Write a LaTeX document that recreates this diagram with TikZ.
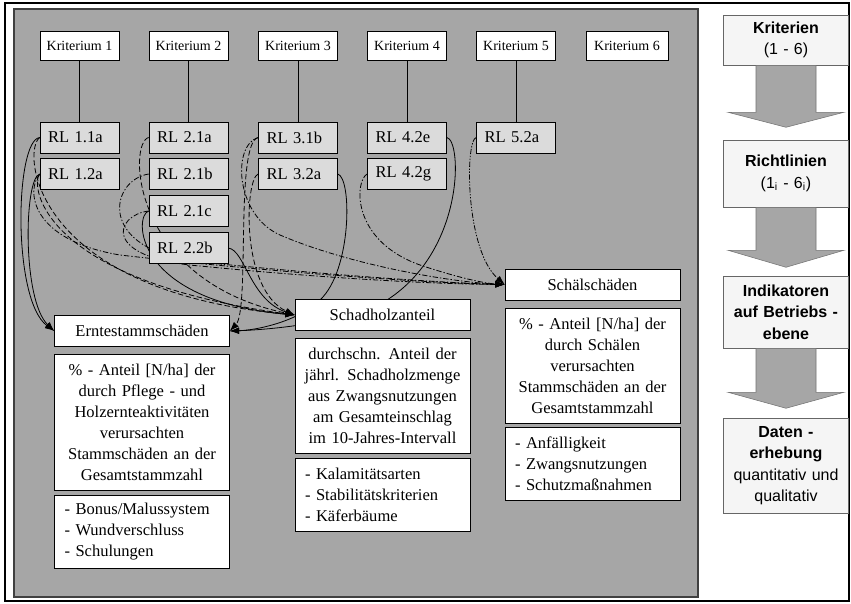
\documentclass[tikz,border=0pt]{standalone}
\usepackage{fontspec}
\setmainfont{Liberation Serif}
\setsansfont{Liberation Sans}
\usetikzlibrary{arrows.meta}
\newlength{\px}
\setlength{\px}{0.75pt}
\pgfdeclarelayer{panel}
\pgfdeclarelayer{wires}
\pgfsetlayers{panel,wires,main}
\tikzset{
  kbox/.style={draw, fill=white, font=\fontsize{10.5}{12}\selectfont, minimum width=79\px, minimum height=29\px, inner sep=0pt},
  rlbox/.style={draw, fill=black!14, font=\fontsize{12.4}{15}\selectfont, text width=63\px, inner xsep=8\px, inner ysep=0pt, minimum height=31\px, align=left},
  titlebox/.style={draw, fill=white, font=\fontsize{12.4}{15.75}\selectfont, minimum width=175\px, minimum height=31\px, inner sep=0pt},
  descbox/.style={draw, fill=white, font=\fontsize{12.4}{15.75}\selectfont, text width=171\px, inner xsep=2\px, inner ysep=0pt, align=center},
  listbox/.style={draw, fill=white, font=\fontsize{12.4}{15.75}\selectfont, text width=155\px, inner xsep=10\px, inner ysep=0pt, align=left, minimum height=73\px},
  stepbox/.style={draw=black!60, fill=black!4, font=\sffamily\fontsize{12}{16}\selectfont, text width=115\px, inner xsep=5\px, inner ysep=0pt, align=center},
  bigarrow/.style={draw=black!55, fill=black!35},
  wire/.style={line width=0.6pt, -{Latex[length=7pt,width=5pt]}},
  solidwire/.style={wire},
  dashwire/.style={wire, dash pattern=on 4pt off 2pt},
  dotwire/.style={wire, dash pattern=on 4pt off 1.5pt on 1pt off 1.5pt},
  ddotwire/.style={wire, dash pattern=on 4pt off 1.2pt on 1pt off 1.2pt on 1pt off 1.2pt}
}
\begin{document}
\begin{tikzpicture}[x=0.75pt, y=-0.75pt]
  \useasboundingbox (0,0) rectangle (851,604);
  \begin{pgfonlayer}{panel}
    \fill[white] (0,0) rectangle (851,604);
    \draw[line width=1.2pt] (5,3) rectangle (849,601);
    \draw[draw=black!75, line width=1pt, fill=black!35] (14,9) rectangle (698,597);
  \end{pgfonlayer}

  \node[kbox] (k1) at (79.5,46) {Kriterium 1};
  \node[kbox] (k2) at (188.5,46) {Kriterium 2};
  \node[kbox] (k3) at (298,46) {Kriterium 3};
  \node[kbox] (k4) at (407,46) {Kriterium 4};
  \node[kbox] (k5) at (516,46) {Kriterium 5};
  \node[kbox, minimum width=82\px] (k6) at (627,46) {Kriterium 6};

  \node[rlbox] (rl11) at (79.5,137.5) {RL 1.1a};
  \node[rlbox] (rl12) at (79.5,174) {RL 1.2a};
  \node[rlbox] (rl21a) at (188.5,137.5) {RL 2.1a};
  \node[rlbox] (rl21b) at (188.5,174) {RL 2.1b};
  \node[rlbox] (rl21c) at (188.5,211) {RL 2.1c};
  \node[rlbox] (rl22b) at (188.5,248) {RL 2.2b};
  \node[rlbox] (rl31b) at (298,137.5) {RL 3.1b};
  \node[rlbox] (rl32a) at (298,174) {RL 3.2a};
  \node[rlbox] (rl42e) at (407,137.5) {RL 4.2e};
  \node[rlbox] (rl42g) at (407,174) {RL 4.2g};
  \node[rlbox] (rl52a) at (516,137.5) {RL 5.2a};

  \draw (k1) -- (rl11);
  \draw (k2) -- (rl21a);
  \draw (k3) -- (rl31b);
  \draw (k4) -- (rl42e);
  \draw (k5) -- (rl52a);

  \node[titlebox] (ernte) at (142,331) {Erntestammschäden};
  \node[descbox, minimum height=136\px] (erntetext) at (142,422) {\% - Anteil [N/ha] der\\durch Pflege - und\\Holzernteaktivitäten\\verursachten\\Stammschäden an der\\Gesamtstammzahl};
  \node[listbox] (erntelist) at (142,531.5) {- Bonus/Malussystem\\- Wundverschluss\\- Schulungen};

  \node[titlebox] (schad) at (382.5,315) {Schadholzanteil};
  \node[descbox, minimum height=115\px] (schadtext) at (382.5,395.5) {durchschn. Anteil der\\jährl. Schadholzmenge\\aus Zwangsnutzungen\\am Gesamteinschlag\\im 10-Jahres-Intervall};
  \node[listbox] (schadlist) at (382.5,494.5) {- Kalamitätsarten\\- Stabilitätskriterien\\- Käferbäume};

  \node[titlebox] (schael) at (592.5,284.5) {Schälschäden};
  \node[descbox, minimum height=115\px] (schaeltext) at (592.5,365.5) {\% - Anteil [N/ha] der\\durch Schälen\\verursachten\\Stammschäden an der\\Gesamtstammzahl};
  \node[listbox] (schaellist) at (592.5,463.5) {- Anfälligkeit\\- Zwangsnutzungen\\- Schutzmaßnahmen};

  \begin{pgfonlayer}{wires}
    \draw[solidwire] (rl11.west) .. controls (15,140) and (12,300) .. (ernte.west);
    \draw[solidwire] (rl12.west) .. controls (24,178) and (22,300) .. (ernte.west);
    \draw[dashwire] (rl11.west) .. controls (22,150) and (30,290) .. (schad.west);
    \draw[dashwire] (rl12.west) .. controls (30,185) and (40,280) .. (schad.west);
    \draw[dotwire] (rl12.west) .. controls (26,190) and (30,240) .. (120,255) .. controls (250,270) and (420,283) .. (schael.west);
    \draw[dashwire] (rl21a.west) .. controls (128,142) and (130,280) .. (schad.west);
    \draw[dotwire] (rl21b.west) .. controls (110,180) and (95,250) .. (200,262) .. controls (300,272) and (420,282) .. (schael.west);
    \draw[solidwire] (rl21c.west) .. controls (134,215) and (132,300) .. (schad.west);
    \draw[dotwire] (rl21c.west) .. controls (115,215) and (100,258) .. (200,266) .. controls (300,276) and (420,284) .. (schael.west);
    \draw[solidwire] (rl22b.east) .. controls (245,250) and (250,300) .. (schad.west);
    \draw[dashwire] (rl31b.west) .. controls (235,142) and (250,310) .. (ernte.east);
    \draw[dotwire] (rl31b.west) .. controls (232,145) and (235,215) .. (280,235) .. controls (350,265) and (450,282) .. (schael.west);
    \draw[dashwire] (rl32a.west) .. controls (245,178) and (240,290) .. (schad.west);
    \draw[solidwire] (rl32a.east) .. controls (352,178) and (352,270) .. (320,300) .. controls (300,320) and (260,330) .. (ernte.east);
    \draw[solidwire] (rl42e.east) .. controls (462,140) and (465,250) .. (387,300) .. controls (340,325) and (260,330) .. (ernte.east);
    \draw[dotwire] (rl42g.west) .. controls (355,180) and (350,240) .. (420,265) .. controls (450,275) and (480,283) .. (schael.west);
    \draw[ddotwire] (rl52a.west) .. controls (465,140) and (465,250) .. (schael.west);
  \end{pgfonlayer}

  \node[stepbox, minimum height=50\px] (krit) at (786,40) {\textbf{Kriterien}\\(1 - 6)};
  \node[stepbox, minimum height=67\px] (richt) at (786,173.5) {\textbf{Richtlinien}\\(1\textsubscript{i} - 6\textsubscript{i})};
  \node[stepbox, minimum height=72\px] (indik) at (786,312) {\textbf{Indikatoren}\\\textbf{auf Betriebs -}\\\textbf{ebene}};
  \node[stepbox, minimum height=95\px] (daten) at (786,465.5) {\textbf{Daten -}\\\textbf{erhebung}\\quantitativ und\\qualitativ};

  \draw[bigarrow] ([xshift=-30\px]krit.south) -- ++(0,47) -- ++(-28,0) -- ++(58,15) -- ++(58,-15) -- ++(-28,0) -- ++(0,-47) -- cycle;
  \draw[bigarrow] ([xshift=-30\px]richt.south) -- ++(0,43) -- ++(-28,0) -- ++(58,17) -- ++(58,-17) -- ++(-28,0) -- ++(0,-43) -- cycle;
  \draw[bigarrow] ([xshift=-30\px]indik.south) -- ++(0,44) -- ++(-28,0) -- ++(58,16) -- ++(58,-16) -- ++(-28,0) -- ++(0,-44) -- cycle;
\end{tikzpicture}
\end{document}
